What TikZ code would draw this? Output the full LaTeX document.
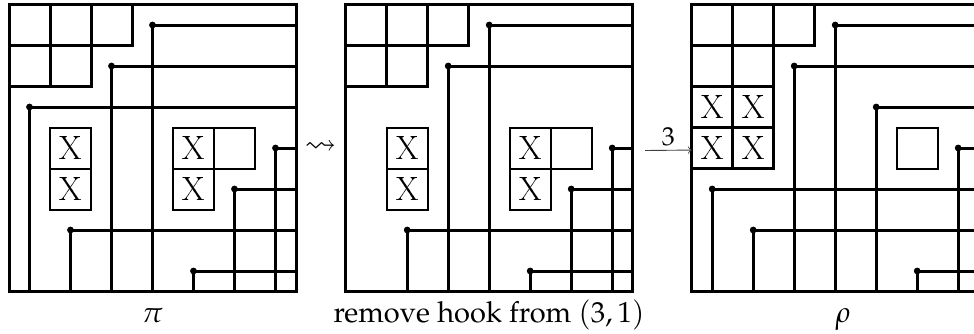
\documentclass[tikz,border=0pt]{standalone}
\usepackage[T1]{fontenc}
\usepackage{mathpazo}
\usepackage{amssymb}
\begin{document}
\begin{tikzpicture}[x=0.5pt,y=-0.5pt,
  frame/.style={line width=1.5pt},
  hookline/.style={line width=1.5pt},
  ycell/.style={line width=1.5pt},
  xcell/.style={line width=1pt},
  xlab/.style={inner sep=0pt,font=\usefont{T1}{lmr}{m}{n}\fontsize{16.5}{19}\selectfont},
  lab/.style={anchor=base,inner sep=0pt,font=\fontsize{14.5}{17}\selectfont},
  thinarrow/.style={->,line width=0.45pt,draw=black!75},
]
\useasboundingbox (0,0) rectangle (974,333);
% ---------- panel 1 ----------
\begin{scope}[shift={(9,4.5)},x=20.5pt,y=-20.5pt]
  \draw[frame] (0,0) rectangle (7,7);
  \foreach \r/\c in {1/1,1/2,1/3,2/1,2/2}
    \draw[ycell] (\c-1,\r-1) rectangle (\c,\r);
  \foreach \r/\c in {1/4,2/3,3/1,4/7,5/6,6/2,7/5} {
    \draw[hookline] (7,\r-0.5) -| (\c-0.5,7);
    \fill (\c-0.5,\r-0.5) circle[radius=1.7pt];
  }
  \foreach \r/\c/\t in {4/2/X,5/2/X,4/5/X,5/5/X,4/6/{}}
    \draw[xcell] (\c-1,\r-1) rectangle (\c,\r)
      node[xlab] (pa-\r-\c) at (\c-0.5,\r-0.5) {\t};
\end{scope}
% ---------- panel 2 ----------
\begin{scope}[shift={(345.7,4.5)},x=20.5pt,y=-20.5pt]
  \draw[frame] (0,0) rectangle (7,7);
  \foreach \r/\c in {1/1,1/2,1/3,2/1,2/2}
    \draw[ycell] (\c-1,\r-1) rectangle (\c,\r);
  \foreach \r/\c in {1/4,2/3,4/7,5/6,6/2,7/5} {
    \draw[hookline] (7,\r-0.5) -| (\c-0.5,7);
    \fill (\c-0.5,\r-0.5) circle[radius=1.7pt];
  }
  \foreach \r/\c/\t in {4/2/X,5/2/X,4/5/X,5/5/X,4/6/{}}
    \draw[xcell] (\c-1,\r-1) rectangle (\c,\r)
      node[xlab] (pb-\r-\c) at (\c-0.5,\r-0.5) {\t};
\end{scope}
% ---------- panel 3 ----------
\begin{scope}[shift={(691.7,4.5)},x=20.5pt,y=-20.5pt]
  \draw[frame] (0,0) rectangle (7,7);
  \foreach \r/\c/\t in {1/1/{},1/2/{},1/3/{},2/1/{},2/2/{},3/1/X,3/2/X,4/1/X,4/2/X}
    \draw[ycell] (\c-1,\r-1) rectangle (\c,\r)
      node[xlab] (pc-\r-\c) at (\c-0.5,\r-0.5) {\t};
  \foreach \r/\c in {1/4,2/3,3/5,4/7,5/1,6/2,7/6} {
    \draw[hookline] (7,\r-0.5) -| (\c-0.5,7);
    \fill (\c-0.5,\r-0.5) circle[radius=1.7pt];
  }
  \draw[xcell] (5,3) rectangle (6,4);
  \coordinate (p3in) at (0,3.55);
\end{scope}
% ---------- arrows ----------
\node[inner sep=0pt,font=\fontsize{15}{18}\selectfont] (sq) at (320.5,148) {$\rightsquigarrow$};
\coordinate (a2s) at (645,150.5);
\draw[thinarrow] (a2s) -- node[above=1pt,inner sep=1pt,font=\fontsize{13}{15}\selectfont] (three) {3} (p3in);
% ---------- labels ----------
\node[lab] (lpi) at (152.5,322) {$\pi$};
\node[lab] (lrm) at (489,322) {remove hook from $(3,1)$};
\node[lab] (lrho) at (843,322) {$\rho$};
\end{tikzpicture}
\end{document}
